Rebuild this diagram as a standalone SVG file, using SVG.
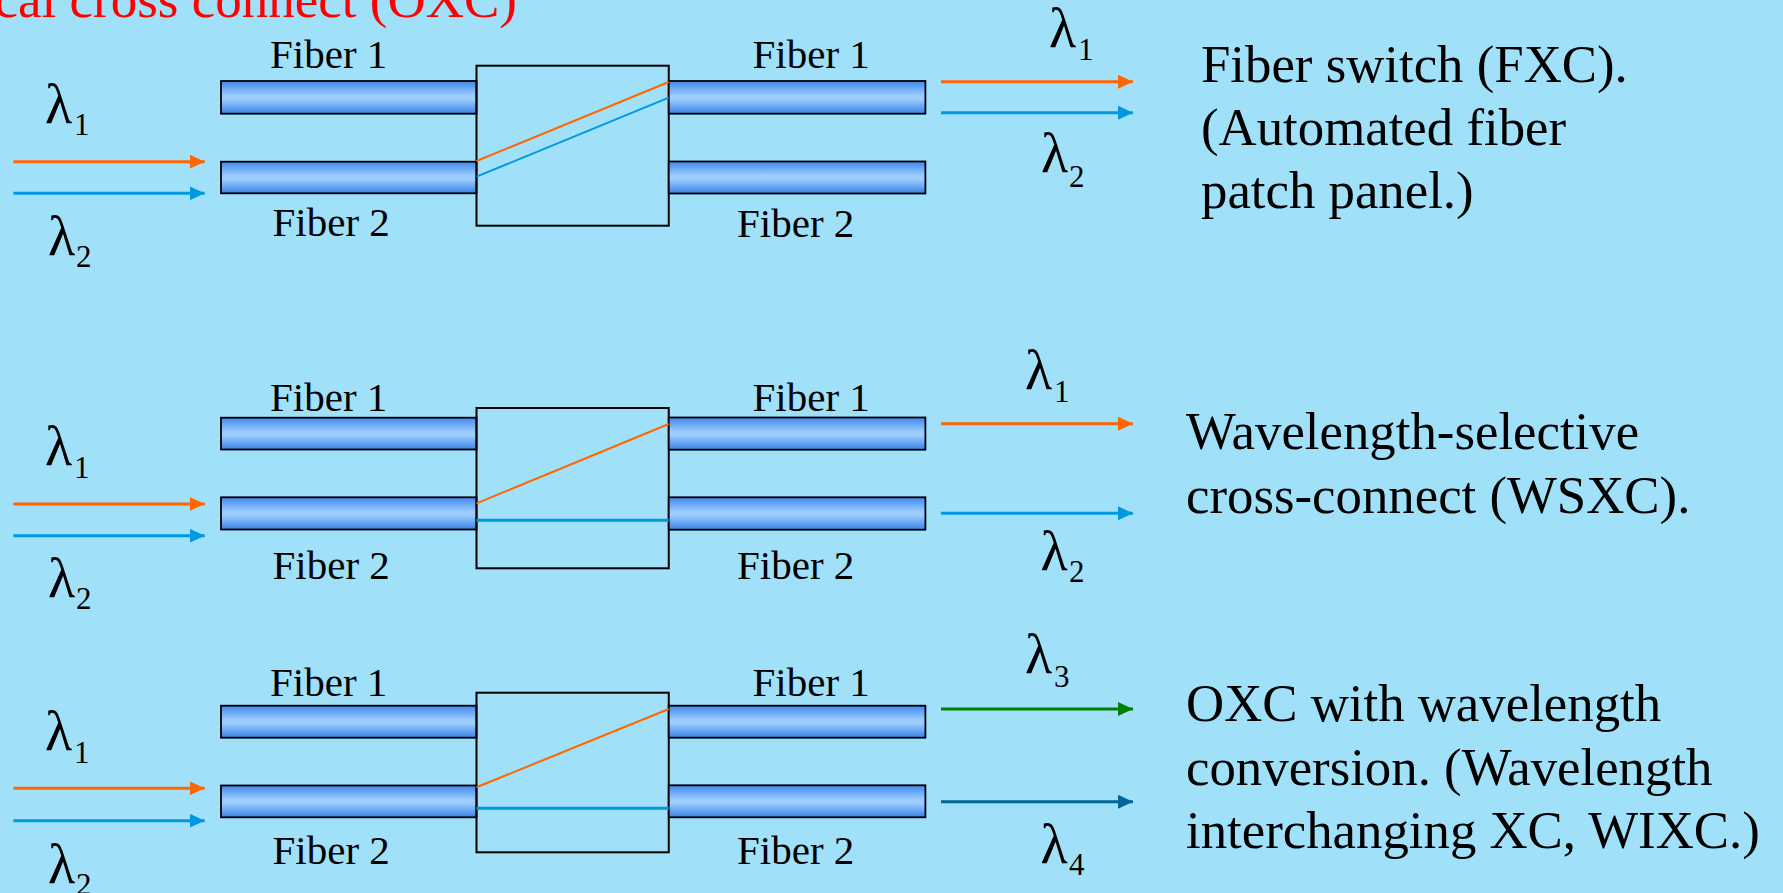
<svg xmlns="http://www.w3.org/2000/svg" width="1783" height="893" viewBox="0 0 1783 893">
  <defs>
    <linearGradient id="fiberGrad" x1="0" y1="0" x2="0" y2="1">
      <stop offset="0" stop-color="#3F88EC"/>
      <stop offset="0.45" stop-color="#9CCDFF"/>
      <stop offset="0.55" stop-color="#9CCDFF"/>
      <stop offset="1" stop-color="#3A82E6"/>
    </linearGradient>
    <marker id="arrOrange" viewBox="0 0 15 14" refX="15" refY="7" markerWidth="15" markerHeight="14" markerUnits="userSpaceOnUse" orient="auto">
      <path d="M0,0 L15,7 L0,14 Z" fill="#FF6600"/>
    </marker>
    <marker id="arrBlue" viewBox="0 0 15 14" refX="15" refY="7" markerWidth="15" markerHeight="14" markerUnits="userSpaceOnUse" orient="auto">
      <path d="M0,0 L15,7 L0,14 Z" fill="#0099DD"/>
    </marker>
    <marker id="arrGreen" viewBox="0 0 15 14" refX="15" refY="7" markerWidth="15" markerHeight="14" markerUnits="userSpaceOnUse" orient="auto">
      <path d="M0,0 L15,7 L0,14 Z" fill="#008000"/>
    </marker>
    <marker id="arrDark" viewBox="0 0 15 14" refX="15" refY="7" markerWidth="15" markerHeight="14" markerUnits="userSpaceOnUse" orient="auto">
      <path d="M0,0 L15,7 L0,14 Z" fill="#006699"/>
    </marker>
  </defs>
  <style>
    .fiber { fill: url(#fiberGrad); stroke: #000; stroke-width: 1.8; }
    .box { fill: none; stroke: #000; stroke-width: 2; }
    .lbl { font-family: "Liberation Serif", "Times New Roman", serif; font-size: 41px; fill: #000; }
    .lam { font-family: "Liberation Serif", "Times New Roman", serif; font-size: 56px; fill: #000; }
    .sub { font-size: 31px; }
    .desc { font-family: "Liberation Serif", "Times New Roman", serif; font-size: 52.8px; fill: #000; }
    .title { font-family: "Liberation Serif", "Times New Roman", serif; font-size: 53px; fill: #FF0000; }
    .ao { stroke: #FF6600; stroke-width: 3; fill: none; marker-end: url(#arrOrange); }
    .ab { stroke: #0099DD; stroke-width: 3; fill: none; marker-end: url(#arrBlue); }
    .ag { stroke: #008000; stroke-width: 3; fill: none; marker-end: url(#arrGreen); }
    .ad { stroke: #006699; stroke-width: 3; fill: none; marker-end: url(#arrDark); }
    .io { stroke: #FF6600; stroke-width: 2; fill: none; }
    .ib { stroke: #0099DD; stroke-width: 2; fill: none; }
    .ibh { stroke: #0099DD; stroke-width: 3; fill: none; }
  </style>
  <rect x="0" y="0" width="1783" height="893" fill="#A0E0F9"/>

  <g id="title">
    <text class="title" x="517" y="17" text-anchor="end">cal cross connect (OXC)</text>
  </g>

  <!-- Panel 1: FXC -->
  <g id="p1-in-fiber1"><rect class="fiber" x="221" y="81" width="255.5" height="32.7"/><text class="lbl" x="270" y="67.7">Fiber 1</text></g>
  <g id="p1-in-fiber2"><rect class="fiber" x="221" y="161.7" width="255.5" height="31.6"/><text class="lbl" x="272.5" y="235.7">Fiber 2</text></g>
  <g id="p1-switch"><rect class="box" x="476.5" y="65.7" width="192.25" height="160"/></g>
  <g id="p1-out-fiber1"><rect class="fiber" x="668.75" y="81" width="256.65" height="32.7"/><text class="lbl" x="752.5" y="67.5">Fiber 1</text></g>
  <g id="p1-out-fiber2"><rect class="fiber" x="668.75" y="161.5" width="256.65" height="32"/><text class="lbl" x="737" y="236.7">Fiber 2</text></g>
  <g id="p1-labels">
    <text class="lam"><tspan x="45" y="123">λ</tspan><tspan class="sub" x="74" y="135">1</tspan></text>
    <text class="lam"><tspan x="48" y="255">λ</tspan><tspan class="sub" x="76" y="266.7">2</tspan></text>
    <text class="lam"><tspan x="1049" y="46.7">λ</tspan><tspan class="sub" x="1078" y="60">1</tspan></text>
    <text class="lam"><tspan x="1041" y="171.7">λ</tspan><tspan class="sub" x="1069" y="186.7">2</tspan></text>
  </g>
  <g id="p1-desc">
    <text class="desc" x="1201" y="81.7">Fiber switch (FXC).</text>
    <text class="desc" x="1201" y="145">(Automated fiber</text>
    <text class="desc" x="1201" y="208.3">patch panel.)</text>
  </g>

  <!-- Panel 2: WSXC -->
  <g id="p2-in-fiber1"><rect class="fiber" x="221" y="417.7" width="255.5" height="31.8"/><text class="lbl" x="270" y="411">Fiber 1</text></g>
  <g id="p2-in-fiber2"><rect class="fiber" x="221" y="497.3" width="255.5" height="32.2"/><text class="lbl" x="272.5" y="579.3">Fiber 2</text></g>
  <g id="p2-switch"><rect class="box" x="476.5" y="408" width="192.25" height="160.3"/></g>
  <g id="p2-out-fiber1"><rect class="fiber" x="668.75" y="417.5" width="256.65" height="32.2"/><text class="lbl" x="752.5" y="410.7">Fiber 1</text></g>
  <g id="p2-out-fiber2"><rect class="fiber" x="668.75" y="497.3" width="256.65" height="32.4"/><text class="lbl" x="737" y="579.3">Fiber 2</text></g>
  <g id="p2-labels">
    <text class="lam"><tspan x="45" y="465">λ</tspan><tspan class="sub" x="74" y="478.3">1</tspan></text>
    <text class="lam"><tspan x="48" y="596.7">λ</tspan><tspan class="sub" x="76" y="609.3">2</tspan></text>
    <text class="lam"><tspan x="1025" y="389">λ</tspan><tspan class="sub" x="1054" y="401.7">1</tspan></text>
    <text class="lam"><tspan x="1040.5" y="570">λ</tspan><tspan class="sub" x="1069" y="581.7">2</tspan></text>
  </g>
  <g id="p2-desc">
    <text class="desc" x="1186" y="449.3">Wavelength-selective</text>
    <text class="desc" x="1186" y="513.3">cross-connect (WSXC).</text>
  </g>

  <!-- Panel 3: WIXC -->
  <g id="p3-in-fiber1"><rect class="fiber" x="221" y="705.7" width="255.5" height="32"/><text class="lbl" x="270" y="695.7">Fiber 1</text></g>
  <g id="p3-in-fiber2"><rect class="fiber" x="221" y="785.5" width="255.5" height="31.8"/><text class="lbl" x="272.5" y="864">Fiber 2</text></g>
  <g id="p3-switch"><rect class="box" x="476.5" y="692.7" width="192.25" height="159.6"/></g>
  <g id="p3-out-fiber1"><rect class="fiber" x="668.75" y="705.7" width="256.65" height="32"/><text class="lbl" x="752.5" y="695.7">Fiber 1</text></g>
  <g id="p3-out-fiber2"><rect class="fiber" x="668.75" y="785.3" width="256.65" height="32"/><text class="lbl" x="737" y="864">Fiber 2</text></g>
  <g id="p3-labels">
    <text class="lam"><tspan x="45" y="750">λ</tspan><tspan class="sub" x="74" y="763.3">1</tspan></text>
    <text class="lam"><tspan x="48" y="883">λ</tspan><tspan class="sub" x="76" y="895">2</tspan></text>
    <text class="lam"><tspan x="1025" y="673.3">λ</tspan><tspan class="sub" x="1054" y="686.7">3</tspan></text>
    <text class="lam"><tspan x="1040.5" y="863.3">λ</tspan><tspan class="sub" x="1069" y="875">4</tspan></text>
  </g>
  <g id="p3-desc">
    <text class="desc" x="1186" y="720.7">OXC with wavelength</text>
    <text class="desc" x="1186" y="785">conversion. (Wavelength</text>
    <text class="desc" x="1186" y="848.3">interchanging XC, WIXC.)</text>
  </g>

  <g id="connectors">
    <!-- panel 1 -->
    <line class="ao" x1="13.4" y1="161.7" x2="204.7" y2="161.7"/>
    <line class="ab" x1="13.4" y1="193.3" x2="204.7" y2="193.3"/>
    <line class="io" x1="476.5" y1="161" x2="668.75" y2="82"/>
    <line class="ib" x1="476.5" y1="176.7" x2="668.75" y2="97.7"/>
    <line class="ao" x1="941" y1="81.7" x2="1133" y2="81.7"/>
    <line class="ab" x1="941" y1="112.7" x2="1133" y2="112.7"/>
    <!-- panel 2 -->
    <line class="ao" x1="13.4" y1="504" x2="204.7" y2="504"/>
    <line class="ab" x1="13.4" y1="535.7" x2="204.7" y2="535.7"/>
    <line class="io" x1="476.5" y1="503.3" x2="668.75" y2="424"/>
    <line class="ibh" x1="476.5" y1="520.3" x2="668.75" y2="520.3"/>
    <line class="ao" x1="941" y1="423.7" x2="1133" y2="423.7"/>
    <line class="ab" x1="941" y1="513.3" x2="1133" y2="513.3"/>
    <!-- panel 3 -->
    <line class="ao" x1="13.4" y1="788.3" x2="204.7" y2="788.3"/>
    <line class="ab" x1="13.4" y1="820.7" x2="204.7" y2="820.7"/>
    <line class="io" x1="476.5" y1="787.3" x2="668.75" y2="709"/>
    <line class="ibh" x1="476.5" y1="808.3" x2="668.75" y2="808.3"/>
    <line class="ag" x1="941" y1="709" x2="1133" y2="709"/>
    <line class="ad" x1="941" y1="801.7" x2="1133" y2="801.7"/>
  </g>
</svg>
